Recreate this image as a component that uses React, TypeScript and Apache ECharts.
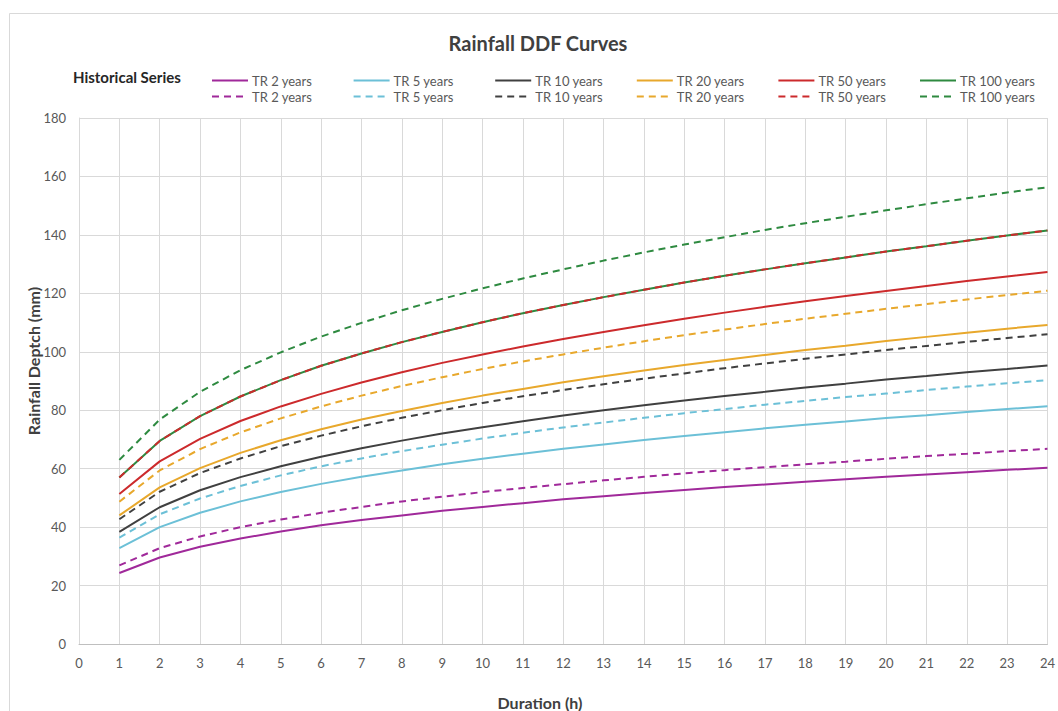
import React, { useEffect, useRef } from "react";
import * as echarts from "echarts";

const hours = [1, 2, 3, 4, 5, 6, 7, 8, 9, 10, 11, 12, 13, 14, 15, 16, 17, 18, 19, 20, 21, 22, 23, 24];

const returnPeriods = ["TR 2 years", "TR 5 years", "TR 10 years", "TR 20 years", "TR 50 years", "TR 100 years"];

// Solid curves
const tr2 = [24.3, 29.6, 33.3, 36.1, 38.5, 40.6, 42.4, 44.0, 45.6, 46.9, 48.2, 49.5, 50.6, 51.7, 52.7, 53.7, 54.6, 55.5, 56.4, 57.2, 58.0, 58.8, 59.6, 60.3];
const tr5 = [32.8, 40.0, 44.9, 48.8, 52.0, 54.8, 57.2, 59.4, 61.5, 63.4, 65.1, 66.8, 68.3, 69.8, 71.2, 72.5, 73.8, 75.0, 76.1, 77.3, 78.3, 79.4, 80.4, 81.4];
const tr10 = [38.4, 46.8, 52.6, 57.1, 60.8, 64.1, 67.0, 69.6, 72.0, 74.2, 76.2, 78.2, 80.0, 81.7, 83.3, 84.9, 86.3, 87.8, 89.1, 90.5, 91.7, 93.0, 94.1, 95.3];
const tr20 = [44.0, 53.6, 60.2, 65.4, 69.7, 73.5, 76.8, 79.7, 82.5, 85.0, 87.3, 89.6, 91.6, 93.6, 95.5, 97.2, 98.9, 100.6, 102.1, 103.7, 105.1, 106.5, 107.9, 109.2];
const tr50 = [51.3, 62.5, 70.2, 76.3, 81.3, 85.6, 89.5, 93.0, 96.2, 99.1, 101.8, 104.4, 106.8, 109.1, 111.3, 113.4, 115.4, 117.3, 119.1, 120.8, 122.5, 124.2, 125.8, 127.3];
const tr100 = [57.0, 69.5, 78.0, 84.7, 90.3, 95.2, 99.4, 103.3, 106.8, 110.1, 113.2, 116.0, 118.7, 121.2, 123.7, 126.0, 128.2, 130.3, 132.3, 134.3, 136.1, 138.0, 139.8, 141.5];

// Dashed curves
const tr2d = [26.9, 32.8, 36.8, 40.0, 42.6, 44.9, 46.9, 48.8, 50.4, 52.0, 53.4, 54.7, 56.0, 57.2, 58.4, 59.5, 60.5, 61.5, 62.4, 63.4, 64.3, 65.1, 66.0, 66.8];
const tr5d = [36.4, 44.4, 49.8, 54.1, 57.7, 60.8, 63.5, 66.0, 68.2, 70.3, 72.3, 74.1, 75.8, 77.4, 79.0, 80.4, 81.9, 83.2, 84.5, 85.7, 86.9, 88.1, 89.2, 90.3];
const tr10d = [42.7, 52.1, 58.5, 63.5, 67.7, 71.3, 74.5, 77.4, 80.0, 82.5, 84.8, 86.9, 88.9, 90.8, 92.6, 94.4, 96.0, 97.6, 99.1, 100.6, 102.0, 103.4, 104.7, 106.0];
const tr20d = [48.7, 59.4, 66.7, 72.4, 77.2, 81.3, 85.0, 88.3, 91.3, 94.1, 96.7, 99.1, 101.4, 103.6, 105.7, 107.6, 109.5, 111.3, 113.0, 114.7, 116.3, 117.9, 119.4, 120.9];
const tr50d = [57.0, 69.5, 78.0, 84.7, 90.3, 95.2, 99.4, 103.3, 106.8, 110.1, 113.2, 116.0, 118.7, 121.2, 123.7, 126.0, 128.2, 130.3, 132.3, 134.3, 136.1, 138.0, 139.8, 141.5];
const tr100d = [63.0, 76.8, 86.3, 93.7, 99.8, 105.2, 109.9, 114.2, 118.1, 121.7, 125.1, 128.2, 131.2, 134.0, 136.7, 139.2, 141.7, 144.0, 146.2, 148.4, 150.5, 152.5, 154.5, 156.3];

const solidSets = [tr2, tr5, tr10, tr20, tr50, tr100];
const dashedSets = [tr2d, tr5d, tr10d, tr20d, tr50d, tr100d];
const colors = ["#a0299a", "#6cc0d7", "#404040", "#e8a82c", "#cc2a2c", "#2e8a40"];

const HIST = " (historical)";
const FONT = "Lato, 'Open Sans', sans-serif";

export default function App() {
  const ref = useRef<HTMLDivElement>(null);

  useEffect(() => {
    if (!ref.current) return;
    const chart = echarts.init(ref.current, undefined, { renderer: "svg" });

    const series: any[] = [];
    solidSets.forEach((vals, i) => {
      series.push({
        name: returnPeriods[i],
        type: "line",
        symbol: "none",
        smooth: false,
        data: hours.map((h, k) => [h, vals[k]]),
        lineStyle: { color: colors[i], width: 2, type: "solid" },
        itemStyle: { color: colors[i] },
      });
    });
    dashedSets.forEach((vals, i) => {
      series.push({
        name: returnPeriods[i] + HIST,
        type: "line",
        symbol: "none",
        smooth: false,
        data: hours.map((h, k) => [h, vals[k]]),
        lineStyle: { color: colors[i], width: 2, type: [7, 5] },
        itemStyle: { color: colors[i] },
      });
    });

    const legendItem = (name: string, left: number, top: number) => ({
      orient: "horizontal",
      left,
      top,
      itemWidth: 36,
      itemHeight: 12,
      padding: 0,
      selectedMode: false,
      itemStyle: { opacity: 0 },
      textStyle: { fontFamily: FONT, fontSize: 13, color: "#595959", padding: [0, 0, 0, -1] },
      formatter: (n: string) => n.replace(HIST, ""),
      data: [name],
    });

    const legends: any[] = [];
    returnPeriods.forEach((n, i) => {
      legends.push(legendItem(n, 211 + i * 141.6, 74));
    });
    returnPeriods.forEach((n, i) => {
      legends.push(legendItem(n + HIST, 211 + i * 141.6, 90));
    });

    chart.setOption({
      animation: false,
      backgroundColor: "#ffffff",
      textStyle: { fontFamily: FONT },
      title: {
        text: "Rainfall DDF Curves",
        left: 533,
        top: 28,
        textAlign: "center",
        textStyle: { fontFamily: FONT, fontSize: 20, fontWeight: "bold", color: "#404040" },
      },
      legend: legends,
      grid: { left: 79, right: 9, top: 118, bottom: 67, containLabel: false },
      xAxis: {
        type: "value",
        min: 0,
        max: 24,
        interval: 1,
        axisLine: { show: true, lineStyle: { color: "#bfbfbf", width: 1 } },
        axisTick: { show: false },
        splitLine: { show: true, lineStyle: { color: "#d9d9d9", width: 1 } },
        axisLabel: { fontFamily: FONT, fontSize: 13, color: "#595959", margin: 12 },
      },
      yAxis: {
        type: "value",
        min: 0,
        max: 180,
        interval: 20,
        axisLine: { show: true, lineStyle: { color: "#d9d9d9", width: 1 } },
        axisTick: { show: false },
        splitLine: { show: true, lineStyle: { color: "#d9d9d9", width: 1 } },
        axisLabel: { fontFamily: FONT, fontSize: 13, color: "#595959", margin: 13 },
      },
      graphic: [
        {
          type: "rect",
          silent: true,
          shape: { x: 9.5, y: 13.5, width: 1200, height: 900 },
          style: { fill: "none", stroke: "#d9d9d9", lineWidth: 1 },
        },
        {
          type: "text",
          left: 73,
          top: 69,
          style: {
            text: "Historical Series",
            fontFamily: FONT,
            fontSize: 15,
            fontWeight: "bold",
            fill: "#262626",
          },
        },
        {
          type: "text",
          x: 33,
          y: 361,
          rotation: Math.PI / 2,
          style: {
            text: "Rainfall Deptch (mm)",
            fontFamily: FONT,
            fontSize: 16,
            fontWeight: "bold",
            fill: "#404040",
            align: "center",
            verticalAlign: "middle",
          },
        },
        {
          type: "text",
          x: 540,
          y: 702,
          style: {
            text: "Duration (h)",
            fontFamily: FONT,
            fontSize: 16,
            fontWeight: "bold",
            fill: "#404040",
            align: "center",
            verticalAlign: "middle",
          },
        },
      ],
      series,
    });

    return () => chart.dispose();
  }, []);

  return (
    <div
      ref={ref}
      style={{ position: "fixed", left: 0, top: 0, width: 1058, height: 711 }}
    />
  );
}
